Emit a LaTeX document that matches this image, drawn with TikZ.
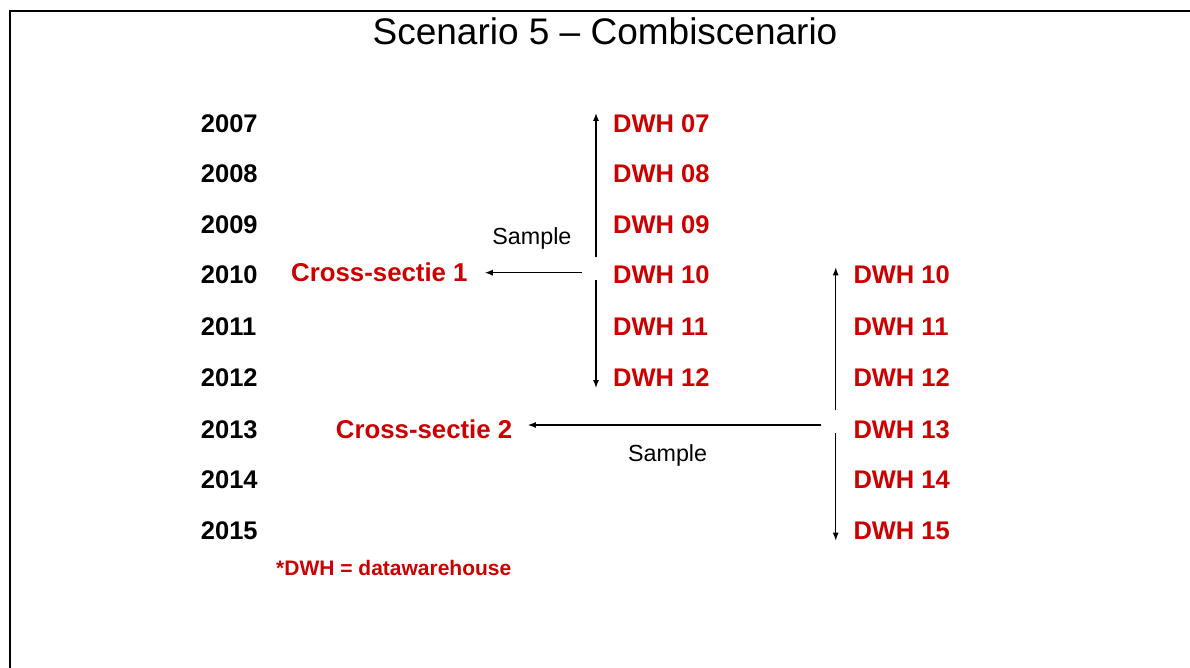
\documentclass[tikz,border=0pt]{standalone}
\usepackage{fontspec}
\setmainfont{Liberation Sans}
\usepackage{xcolor}
\usepackage{tikz}
\usetikzlibrary{arrows.meta,positioning}
\definecolor{dwhRed}{HTML}{CC0000}

\begin{document}
\begin{tikzpicture}[
  x=1pt, y=-1pt,
  title/.style={anchor=base, inner sep=0pt, font=\fontsize{37}{40}\selectfont},
  year/.style={anchor=base west, inner sep=0pt, font=\fontsize{25.5}{28}\selectfont\bfseries},
  dwh/.style={anchor=base west, inner sep=0pt, text=dwhRed, font=\fontsize{25.5}{28}\selectfont\bfseries},
  cross/.style={anchor=base west, inner sep=0pt, text=dwhRed, font=\fontsize{25.8}{28}\selectfont\bfseries},
  sample/.style={inner sep=0pt, font=\fontsize{23.3}{26}\selectfont},
  note/.style={anchor=base west, inner sep=0pt, text=dwhRed, font=\fontsize{21}{24}\selectfont\bfseries},
  arrow/.style={-{Latex[length=8pt,width=6pt]}, line width=1.2pt},
  frame/.style={line width=2.2pt}
]
\useasboundingbox (0,0) rectangle (1190,668);
\draw[frame] (10,668) -- (10,11) -- (1190,11);

\node[title] (title) at (605,45) {Scenario 5 – Combiscenario};

% years
\node[year] (y2007) at (200.7,132.5) {2007};
\node[year] (y2008) at (200.7,183) {2008};
\node[year] (y2009) at (200.7,233.5) {2009};
\node[year] (y2010) at (200.7,283.5) {2010};
\node[year] (y2011) at (200.7,335) {2011};
\node[year] (y2012) at (200.7,386.5) {2012};
\node[year] (y2013) at (200.7,438) {2013};
\node[year] (y2014) at (200.7,488.5) {2014};
\node[year] (y2015) at (200.7,539) {2015};

% first datawarehouse column
\node[dwh] (dwhA07) at (613,132.5) {DWH 07};
\node[dwh] (dwhA08) at (613,183) {DWH 08};
\node[dwh] (dwhA09) at (613,233.5) {DWH 09};
\node[dwh] (dwhA10) at (613,283.5) {DWH 10};
\node[dwh] (dwhA11) at (613,335) {DWH 11};
\node[dwh] (dwhA12) at (613,386.5) {DWH 12};

% second datawarehouse column
\node[dwh] (dwhB10) at (853.3,283.5) {DWH 10};
\node[dwh] (dwhB11) at (853.3,335) {DWH 11};
\node[dwh] (dwhB12) at (853.3,386.5) {DWH 12};
\node[dwh] (dwhB13) at (853.3,438) {DWH 13};
\node[dwh] (dwhB14) at (853.3,488.5) {DWH 14};
\node[dwh] (dwhB15) at (853.3,539) {DWH 15};

\node[cross] (cs1) at (291,281.7) {Cross-sectie 1};
\node[cross] (cs2) at (335.7,438) {Cross-sectie 2};
\node[note] (note) at (276,575) {*DWH = datawarehouse};

% arrows
\coordinate (forkA) at (596,272.7);
\coordinate (topA) at (596,113);
\coordinate (botA) at (596,388);
\coordinate (forkB) at (835.7,425);
\coordinate (topB) at (835.7,267.3);
\coordinate (botB) at (835.7,540.7);

\draw[arrow, shorten <=15.7pt] (forkA) -- (topA);
\draw[arrow, shorten <=7.3pt] (forkA) -- (botA);
\draw[arrow, shorten <=14.3pt, shorten >=17pt] (forkA) -- (forkA -| cs1.east)
  node[midway, above=22.7pt, sample] (smp1) {Sample};

\draw[arrow, shorten <=15pt] (forkB) -- (topB);
\draw[arrow, shorten <=7.7pt] (forkB) -- (botB);
\draw[arrow, shorten <=15pt, shorten >=15.3pt] (forkB) -- (forkB -| cs2.east)
  node[pos=0.52, below=19pt, sample] (smp2) {Sample};
\end{tikzpicture}
\end{document}
